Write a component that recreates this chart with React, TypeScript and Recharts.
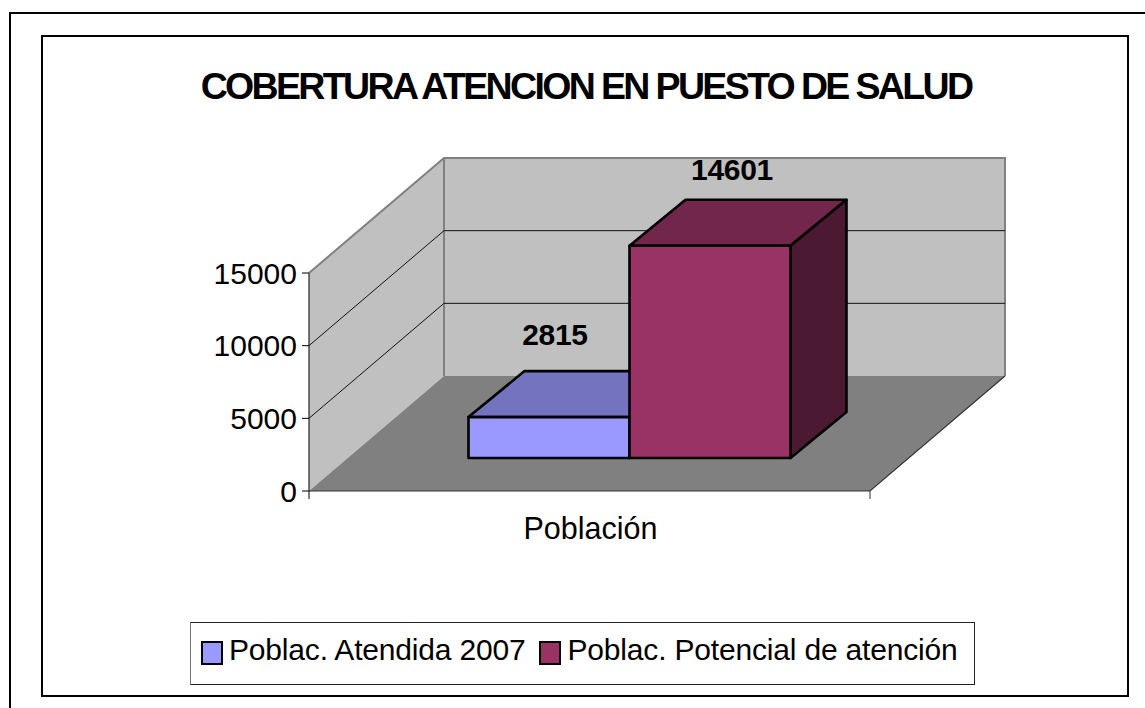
import { Bar, BarChart, CartesianGrid, LabelList, Legend, XAxis, YAxis, usePlotArea } from 'recharts';

const CATEGORIES = ['Población'];
const ATENDIDA = [2815];
const POTENCIAL = [14601];
const Y_TICKS = [0, 5000, 10000, 15000];
const SERIES_NAMES = ['Poblac. Atendida 2007', 'Poblac. Potencial de atención'];

const FONT = '"Liberation Sans", Arial, sans-serif';

// fake 3D: how far the back wall sits from the axis plane, and where bars stand on the floor
const WALL_DX = 135;
const WALL_DY = 115;
const BAR_DX = 40;
const BAR_DY = 33;
const BAR_DEPTH_X = 56;
const BAR_DEPTH_Y = 46;

const data = CATEGORIES.map((name, i) => ({ name, atendida: ATENDIDA[i], potencial: POTENCIAL[i] }));

function Walls() {
    const plot = usePlotArea();
    if (!plot) return null;
    const { x, y, width, height } = plot;
    const r = x + width;
    const b = y + height;
    return (
        <g>
            <polygon points={`${x},${y} ${x + WALL_DX},${y - WALL_DY} ${x + WALL_DX},${b - WALL_DY} ${x},${b}`} fill="#c0c0c0" />
            <polygon points={`${x + WALL_DX},${y - WALL_DY} ${r + WALL_DX},${y - WALL_DY} ${r + WALL_DX},${b - WALL_DY} ${x + WALL_DX},${b - WALL_DY}`} fill="#c0c0c0" />
            <polygon points={`${x},${b} ${x + WALL_DX},${b - WALL_DY} ${r + WALL_DX},${b - WALL_DY} ${r},${b}`} fill="#808080" />
            <polyline
                points={`${x},${y} ${x + WALL_DX},${y - WALL_DY} ${r + WALL_DX},${y - WALL_DY} ${r + WALL_DX},${b - WALL_DY}`}
                fill="none"
                stroke="#808080"
                strokeWidth={2}
            />
            <line x1={x + WALL_DX} y1={y - WALL_DY} x2={x + WALL_DX} y2={b - WALL_DY} stroke="#808080" strokeWidth={2} />
            <polyline points={`${x},${b} ${r},${b} ${r + WALL_DX},${b - WALL_DY}`} fill="none" stroke="#333" strokeWidth={1.2} />
            <line x1={x} y1={y} x2={x} y2={b + 8} stroke="#000" strokeWidth={1} />
            <line x1={r} y1={b} x2={r} y2={b + 8} stroke="#333" strokeWidth={1} />
        </g>
    );
}

// first grid line brings the walls with it, so the later lines land on top of them
function WallGridLine(props: any) {
    const { x1, x2, y1, index, offset } = props;
    const top = offset?.top ?? 273;
    const bottom = top + (offset?.height ?? 218);
    const isEdge = Math.abs(y1 - top) < 2 || Math.abs(y1 - bottom) < 2;
    return (
        <g key={index}>
            {index === 0 && <Walls />}
            {!isEdge && (
                <polyline
                    points={`${x1},${y1} ${x1 + WALL_DX},${y1 - WALL_DY} ${x2 + WALL_DX},${y1 - WALL_DY}`}
                    fill="none"
                    stroke="#111"
                    strokeWidth={1}
                />
            )}
        </g>
    );
}

const box3d = (front: string, top: string, side: string) => (props: any) => {
    const { x, y, width, height } = props;
    const l = x + BAR_DX;
    const t = y - BAR_DY;
    const r = l + width;
    const b = t + height;
    return (
        <g stroke="#000" strokeWidth={2.6} strokeLinejoin="round">
            <polygon points={`${l},${t} ${l + BAR_DEPTH_X},${t - BAR_DEPTH_Y} ${r + BAR_DEPTH_X},${t - BAR_DEPTH_Y} ${r},${t}`} fill={top} />
            <polygon points={`${r},${t} ${r + BAR_DEPTH_X},${t - BAR_DEPTH_Y} ${r + BAR_DEPTH_X},${b - BAR_DEPTH_Y} ${r},${b}`} fill={side} />
            <rect x={l} y={t} width={width} height={height} fill={front} />
        </g>
    );
};

const valueLabel = (dx: number, dy: number) => (props: any) => {
    const { x, y, width, value } = props;
    return (
        <text
            x={x + width / 2 + dx}
            y={y + dy}
            textAnchor="middle"
            dominantBaseline="central"
            fontFamily={FONT}
            fontWeight="bold"
            fontSize={30}
            letterSpacing={-0.3}
            fill="#000"
        >
            {value}
        </text>
    );
};

function ChartLegend({ payload }: any) {
    return (
        <div
            style={{
                boxSizing: 'border-box',
                width: 785,
                height: 63,
                background: '#fff',
                border: '1px solid #222',
                borderLeft: '1px solid #777',
                display: 'flex',
                alignItems: 'center',
                paddingLeft: 10,
                paddingBottom: 7,
                fontFamily: FONT,
                fontSize: 30,
                letterSpacing: -0.18,
                color: '#000',
                whiteSpace: 'nowrap',
            }}
        >
            {(payload || []).map((item: any, i: number) => (
                <span key={item.value} style={{ display: 'flex', alignItems: 'center', marginLeft: i ? 14 : 0 }}>
                    <span
                        style={{
                            boxSizing: 'border-box',
                            width: 22,
                            height: 24,
                            marginRight: 6,
                            marginTop: 6,
                            background: item.color,
                            border: '2.5px solid #000',
                        }}
                    />
                    {item.value}
                </span>
            ))}
        </div>
    );
}

export default function App() {
    return (
        <div style={{ position: 'fixed', left: 0, top: 0, width: 1145, height: 708, background: '#fff', overflow: 'hidden' }}>
            <div style={{ position: 'absolute', left: 9, top: 12, width: 1136, height: 696, borderLeft: '2px solid #000', borderTop: '2px solid #000' }} />
            <div style={{ position: 'absolute', left: 41, top: 35, width: 1084, height: 658, border: '2px solid #000' }} />
            <div style={{ position: 'absolute', left: 0, top: 0 }}>
                <BarChart
                    width={1145}
                    height={708}
                    data={data}
                    margin={{ top: 273, right: 275, bottom: 177, left: 249 }}
                    barCategoryGap={119.5}
                    barGap={0}
                >
                    <CartesianGrid vertical={false} horizontal={WallGridLine as any} />
                    <XAxis
                        dataKey="name"
                        height={40}
                        axisLine={false}
                        tickLine={false}
                        tickMargin={20}
                        tick={{ fill: '#000', fontSize: 30.5, fontFamily: FONT, dx: 1 }}
                    />
                    <YAxis
                        width={60}
                        domain={[0, 15000]}
                        ticks={Y_TICKS}
                        axisLine={false}
                        tickSize={7}
                        tickMargin={5}
                        tickLine={{ stroke: '#000' }}
                        tick={{ fill: '#000', fontSize: 30, fontFamily: FONT }}
                        interval={0}
                    />
                    <Legend
                        verticalAlign="middle"
                        content={<ChartLegend />}
                        wrapperStyle={{ left: 190, top: 622, width: 785, height: 63 }}
                    />
                    <Bar dataKey="atendida" name={SERIES_NAMES[0]} fill="#9999ff" isAnimationActive={false} shape={box3d('#9999ff', '#7373bf', '#4c4c80')}>
                        <LabelList dataKey="atendida" content={valueLabel(46, -116)} />
                    </Bar>
                    <Bar dataKey="potencial" name={SERIES_NAMES[1]} fill="#993366" isAnimationActive={false} shape={box3d('#993366', '#72264c', '#4c1933')}>
                        <LabelList dataKey="potencial" content={valueLabel(62, -109)} />
                    </Bar>
                    <text
                        x={586}
                        y={86}
                        textAnchor="middle"
                        dominantBaseline="central"
                        fontFamily={FONT}
                        fontWeight="bold"
                        fontSize={37.5}
                        letterSpacing={-2.65}
                        fill="#000"
                    >
                        COBERTURA ATENCION EN PUESTO DE SALUD
                    </text>
                </BarChart>
            </div>
        </div>
    );
}
